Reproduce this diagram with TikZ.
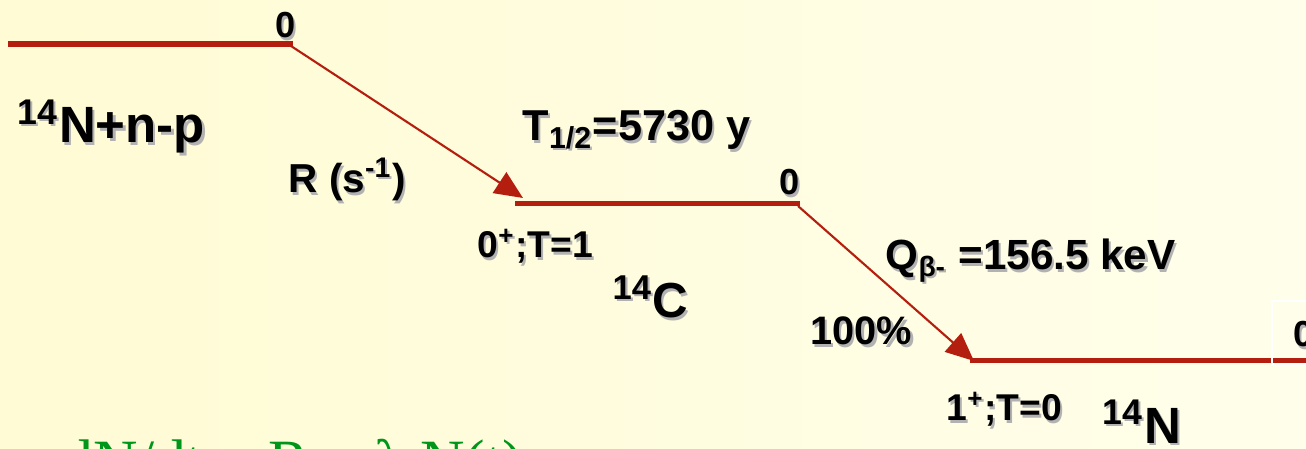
\documentclass[tikz,border=0pt]{standalone}
\usepackage{fontspec}
\setmainfont{Liberation Sans}
\newfontfamily\eqfont{Liberation Serif}
\usetikzlibrary{arrows.meta}

\definecolor{lvlred}{RGB}{180,30,15}
\definecolor{bgleft}{RGB}{255,251,212}
\definecolor{bgright}{RGB}{255,254,234}
\definecolor{eqgreen}{RGB}{0,150,25}

% grey drop shadow behind a label
\newcommand{\shd}[1]{\makebox[0pt][l]{\raisebox{-0.6pt}{\hspace{0.6pt}\color{black!30}#1}}#1}

\tikzset{
  level/.style={lvlred, line width=1.7pt},
  decay/.style={lvlred, line width=0.6pt, -{Triangle[length=8pt,width=7pt]}},
  lbl/.style={anchor=base west, inner sep=0pt},
}

\begin{document}
\begin{tikzpicture}[x=0.01cm,y=-0.01cm]
    % Background
    \shade[left color=bgleft, right color=bgright] (0,0) rectangle (1306,449);
    \useasboundingbox (0,0) rectangle (1306,449);
    \clip (0,0) rectangle (1306,449);

    % Level ends
    \coordinate (npL) at (8,44);
    \coordinate (npR) at (293,44);
    \coordinate (cL) at (515,203.5);
    \coordinate (cR) at (800,203.5);
    \coordinate (nL) at (970,360.5);
    \coordinate (nR) at (1306,360.5);
    \coordinate (d1s) at (291,46);
    \coordinate (d1e) at (523,198);
    \coordinate (d2s) at (798,206);
    \coordinate (d2e) at (974,361);

    % Draw the levels
    \draw[level] (npL) -- (npR);
    \draw[level] (cL) -- (cR);
    \draw[level] (nL) -- (nR);
    \draw[white, line width=0.4pt] (1272,301) rectangle (1312,364);

    % Decays
    \draw[decay] (d1s) -- (d1e);
    \draw[decay] (d2s) -- (d2e);

    % Labels
    \node[lbl, font=\bfseries\fontsize{10.3}{12}\selectfont] (e1) at (275,38) {\shd{0}};
    \node[lbl, font=\bfseries\fontsize{14.5}{17}\selectfont] (npname) at (17,143) {\shd{\textsuperscript{14}N+n-p}};
    \node[lbl, font=\bfseries\fontsize{11.5}{14}\selectfont] (rate) at (288,193) {\shd{R (s\textsuperscript{-1})}};
    \node[lbl, font=\bfseries\fontsize{12.3}{14}\selectfont] (thalf) at (522,141) {\shd{T\textsubscript{1/2}=5730 y}};
    \node[lbl, font=\bfseries\fontsize{10.3}{12}\selectfont] (e2) at (779,195) {\shd{0}};
    \node[lbl, font=\bfseries\fontsize{10.6}{12}\selectfont] (jc) at (477,258) {\shd{0\textsuperscript{+};T=1}};
    \node[lbl, font=\bfseries\fontsize{14}{17}\selectfont] (cname) at (612,318) {\shd{\textsuperscript{14}C}};
    \node[lbl, font=\bfseries\fontsize{12}{14}\selectfont] (qval) at (885,270) {\shd{Q\textsubscript{β-} =156.5 keV}};
    \node[lbl, font=\bfseries\fontsize{11.3}{14}\selectfont] (br) at (810,345) {\shd{100\%}};
    \node[lbl, font=\bfseries\fontsize{10.6}{12}\selectfont] (jn) at (946,421) {\shd{1\textsuperscript{+};T=0}};
    \node[lbl, font=\bfseries\fontsize{14.5}{17}\selectfont] (nname) at (1102,443) {\shd{\textsuperscript{14}N}};
    \node[lbl, font=\bfseries\fontsize{10.3}{12}\selectfont] (e3) at (1293,347) {\shd{0}};

    % Rate equation, cut by the lower edge
    \node[lbl, text=eqgreen, font=\eqfont\fontsize{17.5}{20}\selectfont] (eq) at (62,482) {dN/dt = R − λ N(t)};
\end{tikzpicture}
\end{document}
